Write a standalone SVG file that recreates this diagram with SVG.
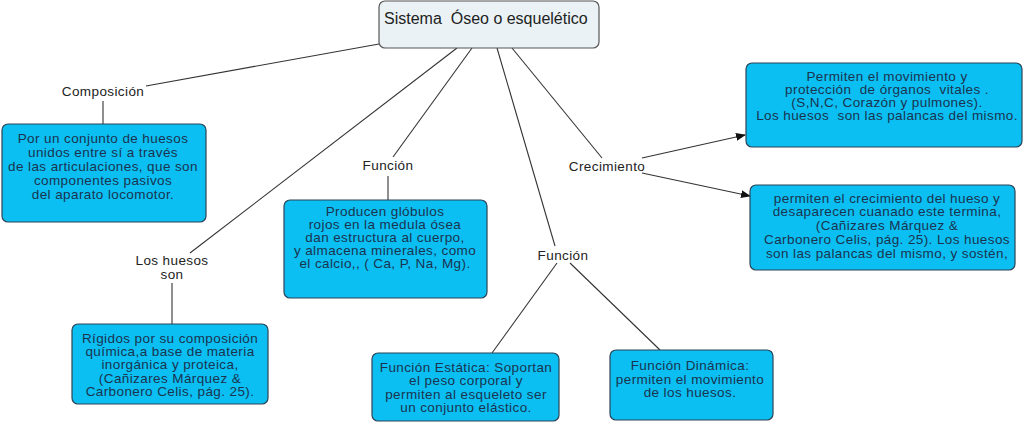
<svg xmlns="http://www.w3.org/2000/svg" width="1024" height="426" viewBox="0 0 1024 426">
<style>
text{white-space:pre}
.box{fill:#0bbff2;stroke:#2c4457;stroke-width:1.2}
.root{fill:#eaf2f5;stroke:#555;stroke-width:1.2}
.bt{font-family:"Liberation Sans",Arial,sans-serif;font-size:13.5px;letter-spacing:0.4px;fill:#1b3350;text-anchor:middle}
.lt{font-family:"Liberation Sans",Arial,sans-serif;font-size:13.5px;letter-spacing:0.4px;fill:#222;text-anchor:middle}
.rt{font-family:"Liberation Sans",Arial,sans-serif;font-size:16px;fill:#222}
.ln{stroke:#333;stroke-width:1.1;fill:none}
</style>
<defs>
<marker id="ah" markerWidth="10" markerHeight="8" refX="9" refY="4" orient="auto" markerUnits="userSpaceOnUse">
<path d="M0,0 L10,4 L0,8 z" fill="#111"/>
</marker>
</defs>
<rect width="1024" height="426" fill="#fff"/>
<g id="connectors">
<line class="ln" x1="379" y1="44" x2="146" y2="86"/>
<line class="ln" x1="103" y1="101" x2="103" y2="124"/>
<line class="ln" x1="457" y1="48" x2="190" y2="253"/>
<line class="ln" x1="172" y1="283" x2="172" y2="324"/>
<line class="ln" x1="472" y1="48" x2="393" y2="157"/>
<line class="ln" x1="388" y1="176" x2="388" y2="200"/>
<line class="ln" x1="497" y1="48" x2="555" y2="246"/>
<line class="ln" x1="557" y1="263" x2="492" y2="353"/>
<line class="ln" x1="570" y1="263" x2="660" y2="350"/>
<line class="ln" x1="512" y1="48" x2="602" y2="158"/>
<line class="ln" x1="642" y1="158" x2="745" y2="135" marker-end="url(#ah)"/>
<line class="ln" x1="642" y1="173" x2="750" y2="196" marker-end="url(#ah)"/>
</g>
<g id="root">
<rect class="root" x="379" y="1" width="220" height="47" rx="6"/>
<text class="rt" x="384" y="24">Sistema  Óseo o esquelético</text>
</g>
<g id="lbl-composicion"><text class="lt" x="103" y="96">Composición</text></g>
<g id="lbl-loshuesos"><text class="lt" x="172" y="265">Los huesos</text><text class="lt" x="172" y="279">son</text></g>
<g id="lbl-funcion1"><text class="lt" x="388" y="170">Función</text></g>
<g id="lbl-funcion2"><text class="lt" x="563" y="260">Función</text></g>
<g id="lbl-crecimiento"><text class="lt" x="607" y="171">Crecimiento</text></g>
<g id="box-composicion">
<rect class="box" x="2" y="124" width="204" height="98" rx="6"/>
<text class="bt" x="103" y="143">Por un conjunto de huesos</text>
<text class="bt" x="103" y="157">unidos entre sí a través</text>
<text class="bt" x="103" y="171">de las articulaciones, que son</text>
<text class="bt" x="103" y="185">componentes pasivos</text>
<text class="bt" x="103" y="199">del aparato locomotor.</text>
</g>
<g id="box-rigidos">
<rect class="box" x="72" y="324" width="196" height="80" rx="6"/>
<text class="bt" x="170" y="343">Rígidos por su composición</text>
<text class="bt" x="170" y="356">química,a base de materia</text>
<text class="bt" x="170" y="369">inorgánica y proteica,</text>
<text class="bt" x="170" y="383">(Cañizares Márquez &amp;</text>
<text class="bt" x="170" y="396">Carbonero Celis, pág. 25).</text>
</g>
<g id="box-produce">
<rect class="box" x="284" y="200" width="203" height="98" rx="6"/>
<text class="bt" x="385" y="216">Producen glóbulos</text>
<text class="bt" x="385" y="229">rojos en la medula ósea</text>
<text class="bt" x="385" y="242">dan estructura al cuerpo,</text>
<text class="bt" x="385" y="255">y almacena minerales, como</text>
<text class="bt" x="385" y="268">el calcio,, ( Ca, P, Na, Mg).</text>
</g>
<g id="box-estatica">
<rect class="box" x="372" y="353" width="187" height="68" rx="6"/>
<text class="bt" x="466" y="372">Función Estática: Soportan</text>
<text class="bt" x="466" y="385">el peso corporal y</text>
<text class="bt" x="466" y="399">permiten al esqueleto ser</text>
<text class="bt" x="466" y="412">un conjunto elástico.</text>
</g>
<g id="box-dinamica">
<rect class="box" x="610" y="350" width="163" height="70" rx="6"/>
<text class="bt" x="690" y="370">Función Dinámica:</text>
<text class="bt" x="690" y="384">permiten el movimiento</text>
<text class="bt" x="690" y="397">de los huesos.</text>
</g>
<g id="box-permiten">
<rect class="box" x="746" y="63" width="276" height="84" rx="6"/>
<text class="bt" x="887" y="81">Permiten el movimiento y</text>
<text class="bt" x="887" y="94">protección  de órganos  vitales .</text>
<text class="bt" x="887" y="107">(S,N,C, Corazón y pulmones).</text>
<text class="bt" x="887" y="120">Los huesos  son las palancas del mismo.</text>
</g>
<g id="box-crecimiento">
<rect class="box" x="750" y="185" width="265" height="85" rx="6"/>
<text class="bt" x="887" y="203">permiten el crecimiento del hueso y</text>
<text class="bt" x="887" y="216">desaparecen cuanado este termina,</text>
<text class="bt" x="887" y="230">(Cañizares Márquez &amp;</text>
<text class="bt" x="887" y="244">Carbonero Celis, pág. 25). Los huesos</text>
<text class="bt" x="887" y="258">son las palancas del mismo, y sostén,</text>
</g>
</svg>
